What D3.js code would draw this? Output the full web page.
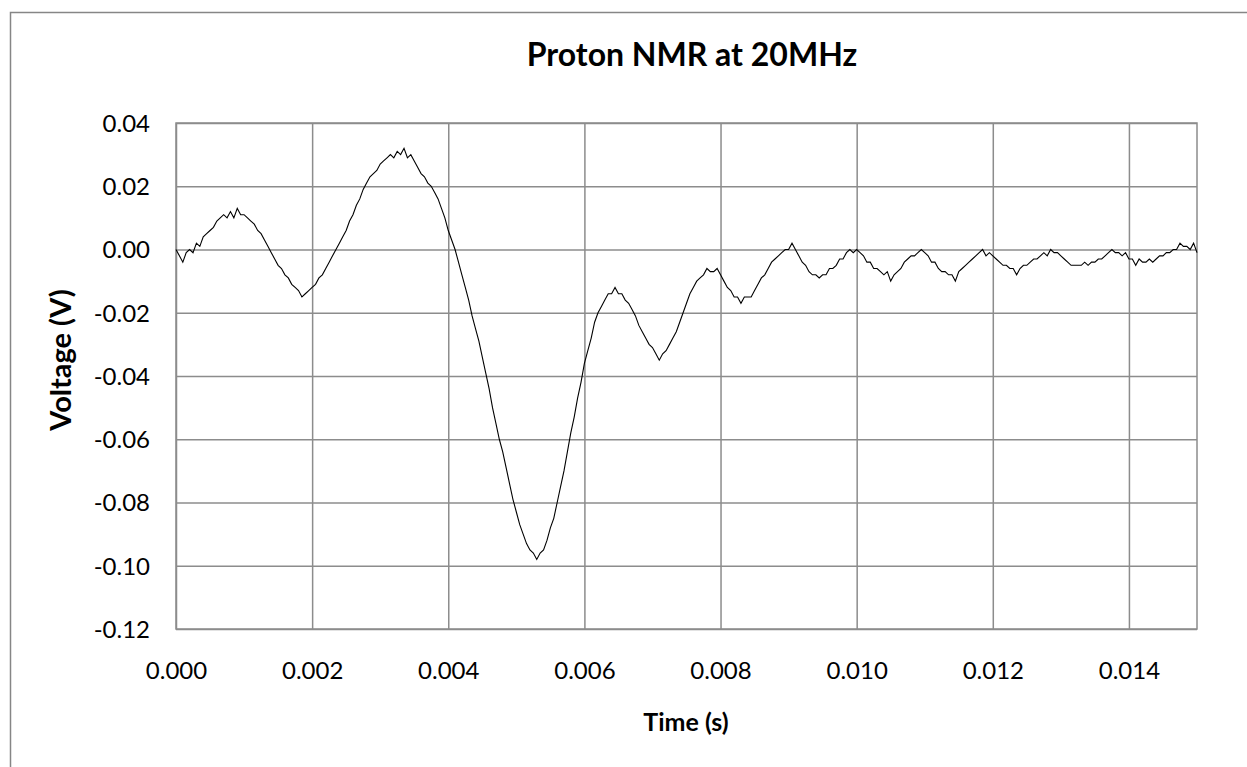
<!DOCTYPE html>
<html>
<head>
<meta charset="utf-8">
<script src="https://cdn.jsdelivr.net/npm/d3@7"></script>
<style>
    body { margin: 0; background: #fff; }
    svg { display: block; }
    text { font-family: Lato, "Open Sans", sans-serif; fill: #000; }
</style>
</head>
<body>
<svg id="chart" width="1247" height="767"></svg>
<script>
// time axis, seconds (one sample every 0.05 ms)
var timeStart = 0, timeStep = 0.00005;

// voltage, volts (10 samples per row = 0.5 ms)
var voltage = [
    0.000, -0.002, -0.004, -0.001, 0.000, -0.001, 0.002, 0.001, 0.004, 0.005,
    0.006, 0.007, 0.009, 0.010, 0.011, 0.010, 0.012, 0.010, 0.013, 0.011,
    0.011, 0.010, 0.009, 0.008, 0.006, 0.005, 0.003, 0.001, -0.001, -0.003,
    -0.005, -0.006, -0.008, -0.009, -0.011, -0.012, -0.013, -0.015, -0.014, -0.013,
    -0.012, -0.011, -0.009, -0.008, -0.006, -0.004, -0.002, 0.000, 0.002, 0.004,
    0.006, 0.009, 0.011, 0.014, 0.016, 0.019, 0.021, 0.023, 0.024, 0.025,
    0.027, 0.028, 0.029, 0.030, 0.029, 0.031, 0.030, 0.032, 0.029, 0.030,
    0.028, 0.026, 0.024, 0.023, 0.021, 0.020, 0.018, 0.016, 0.013, 0.010,
    0.006, 0.003, 0.000, -0.004, -0.008, -0.012, -0.016, -0.021, -0.025, -0.029,
    -0.034, -0.039, -0.044, -0.050, -0.055, -0.060, -0.064, -0.069, -0.074, -0.079,
    -0.083, -0.087, -0.090, -0.093, -0.095, -0.096, -0.098, -0.096, -0.095, -0.092,
    -0.088, -0.085, -0.080, -0.075, -0.070, -0.064, -0.058, -0.053, -0.047, -0.042,
    -0.036, -0.032, -0.028, -0.023, -0.020, -0.018, -0.016, -0.014, -0.014, -0.012,
    -0.014, -0.014, -0.016, -0.017, -0.019, -0.021, -0.024, -0.026, -0.028, -0.030,
    -0.031, -0.033, -0.035, -0.033, -0.032, -0.030, -0.028, -0.026, -0.023, -0.020,
    -0.017, -0.014, -0.012, -0.010, -0.009, -0.008, -0.006, -0.007, -0.007, -0.006,
    -0.008, -0.010, -0.012, -0.013, -0.015, -0.015, -0.017, -0.015, -0.015, -0.015,
    -0.013, -0.011, -0.009, -0.008, -0.006, -0.004, -0.003, -0.002, -0.001, 0.000,
    0.000, 0.002, 0.000, -0.002, -0.004, -0.005, -0.007, -0.008, -0.008, -0.009,
    -0.008, -0.008, -0.006, -0.006, -0.005, -0.003, -0.003, -0.001, 0.000, -0.001,
    0.000, -0.001, -0.002, -0.004, -0.004, -0.006, -0.006, -0.007, -0.008, -0.007,
    -0.010, -0.008, -0.007, -0.006, -0.004, -0.003, -0.002, -0.002, -0.001, 0.000,
    -0.001, -0.002, -0.004, -0.004, -0.006, -0.007, -0.007, -0.008, -0.008, -0.010,
    -0.007, -0.006, -0.005, -0.004, -0.003, -0.002, -0.001, 0.000, -0.002, -0.001,
    -0.002, -0.003, -0.004, -0.005, -0.005, -0.006, -0.006, -0.008, -0.006, -0.005,
    -0.005, -0.004, -0.003, -0.003, -0.002, -0.001, -0.002, 0.000, -0.001, -0.001,
    -0.002, -0.003, -0.004, -0.005, -0.005, -0.005, -0.005, -0.004, -0.005, -0.004,
    -0.004, -0.003, -0.003, -0.002, -0.001, 0.000, -0.001, -0.001, -0.002, -0.001,
    -0.003, -0.003, -0.005, -0.003, -0.004, -0.004, -0.003, -0.004, -0.003, -0.002,
    -0.002, -0.001, -0.001, 0.000, 0.000, 0.002, 0.001, 0.001, 0.000, 0.002,
    -0.001
];

var xTicks = [0, 0.002, 0.004, 0.006, 0.008, 0.010, 0.012, 0.014];
var yTicks = [0.04, 0.02, 0.00, -0.02, -0.04, -0.06, -0.08, -0.10, -0.12];

var titleText = 'Proton NMR at 20MHz',
    xTitle = 'Time (s)',
    yTitle = 'Voltage (V)';

var svg = d3.select('#chart'),
    plot = {left: 176, right: 1197, top: 123, bottom: 629},
    gridColor = '#8c8c8c';

var x = d3.scaleLinear().domain([0, 0.015]).range([plot.left, plot.right]),
    y = d3.scaleLinear().domain([-0.12, 0.04]).range([plot.bottom, plot.top]);

// plain hyphen for negatives, like the spreadsheet does
var fmt = function(spec) {
    var f = d3.format(spec);
    return function(d) { return f(d).replace('\u2212', '-'); };
};

// outer chart border (only left/top land inside the picture)
svg.append('rect')
    .attr('x', 10.5).attr('y', 12.5)
    .attr('width', 1300).attr('height', 900)
    .attr('fill', 'none')
    .attr('stroke', '#868686')
    .attr('stroke-width', 1.5);

// grid
var xAxis = d3.axisBottom(x).tickValues(xTicks)
        .tickSize(-(plot.bottom - plot.top))
        .tickFormat(fmt('.3f')),
    yAxis = d3.axisLeft(y).tickValues(yTicks)
        .tickSize(-(plot.right - plot.left))
        .tickFormat(fmt('.2f'));

var gx = svg.append('g')
    .attr('transform', 'translate(0,' + plot.bottom + ')')
    .call(xAxis);
var gy = svg.append('g')
    .attr('transform', 'translate(' + plot.left + ',0)')
    .call(yAxis);

[gx, gy].forEach(function(g) {
    g.select('.domain').remove();
    g.selectAll('.tick line')
        .attr('stroke', gridColor)
        .attr('stroke-width', 1.5);
    g.selectAll('.tick text')
        .style('font-size', '24px')
        .style('font-family', 'Lato, sans-serif')
        .attr('fill', '#000');
});
gx.selectAll('.tick text').attr('y', 0).attr('dy', 0)
    .attr('transform', 'translate(0,50)');
gy.selectAll('.tick text').attr('x', -26).attr('dy', '0.35em');

// plot frame
svg.append('rect')
    .attr('x', plot.left).attr('y', plot.top)
    .attr('width', plot.right - plot.left)
    .attr('height', plot.bottom - plot.top)
    .attr('fill', 'none')
    .attr('stroke', gridColor)
    .attr('stroke-width', 1.5);

// trace
var line = d3.line()
    .x(function(d, i) { return x(timeStart + i * timeStep); })
    .y(function(d) { return y(d); });

svg.append('path')
    .datum(voltage)
    .attr('d', line)
    .attr('fill', 'none')
    .attr('stroke', '#000')
    .attr('stroke-width', 1.1);

// titles
svg.append('text')
    .attr('x', 692).attr('y', 66)
    .attr('text-anchor', 'middle')
    .style('font-size', '32px')
    .style('font-weight', 'bold')
    .text(titleText);

svg.append('text')
    .attr('x', 686).attr('y', 731)
    .attr('text-anchor', 'middle')
    .style('font-size', '25px')
    .style('font-weight', 'bold')
    .text(xTitle);

svg.append('text')
    .attr('transform', 'translate(71,360) rotate(-90)')
    .attr('text-anchor', 'middle')
    .style('font-size', '29px')
    .style('font-weight', 'bold')
    .text(yTitle);
</script>
</body>
</html>
